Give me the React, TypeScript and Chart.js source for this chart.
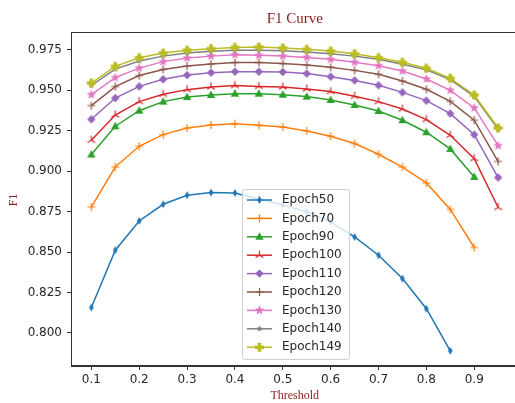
import React, { useEffect, useRef } from "react";
import { Chart, registerables } from "chart.js";

Chart.register(...registerables);

// Score-threshold sweep
const thresholds = [0.1, 0.15, 0.2, 0.25, 0.3, 0.35, 0.4, 0.45, 0.5, 0.55, 0.6, 0.65, 0.7, 0.75, 0.8, 0.85, 0.9, 0.95];

// F1 per checkpoint (shorter series stop where the model no longer predicts)
const epoch50 = [0.8157, 0.8511, 0.8692, 0.8795, 0.8851, 0.8867, 0.8865, 0.8826, 0.8792, 0.8748, 0.8686, 0.8593, 0.848, 0.8336, 0.815, 0.789];
const epoch70 = [0.8778, 0.9025, 0.9153, 0.9225, 0.9266, 0.9285, 0.9293, 0.9283, 0.9272, 0.9248, 0.9215, 0.917, 0.9104, 0.9025, 0.8927, 0.8763, 0.8528];
const epoch90 = [0.9102, 0.9277, 0.9373, 0.9429, 0.9457, 0.947, 0.9478, 0.9478, 0.9472, 0.946, 0.9439, 0.9408, 0.9371, 0.9314, 0.924, 0.9137, 0.8964];
const epoch100 = [0.919, 0.9346, 0.9429, 0.9474, 0.9503, 0.9519, 0.9528, 0.9523, 0.9519, 0.9507, 0.9491, 0.9462, 0.9429, 0.9383, 0.9318, 0.9221, 0.9077, 0.8775];
const epoch110 = [0.932, 0.9451, 0.9523, 0.9567, 0.9593, 0.9608, 0.9614, 0.9614, 0.9612, 0.9602, 0.9583, 0.956, 0.953, 0.9486, 0.9435, 0.9355, 0.9225, 0.896];
const epoch120 = [0.9404, 0.9522, 0.959, 0.9628, 0.9649, 0.9661, 0.967, 0.967, 0.9664, 0.9655, 0.9641, 0.9622, 0.9598, 0.9556, 0.9505, 0.9431, 0.9314, 0.9059];
const epoch130 = [0.9472, 0.9577, 0.9636, 0.9676, 0.9698, 0.971, 0.9719, 0.9715, 0.971, 0.9702, 0.969, 0.9672, 0.9651, 0.9618, 0.9569, 0.9499, 0.939, 0.9157];
const epoch140 = [0.953, 0.963, 0.968, 0.971, 0.973, 0.974, 0.9747, 0.9747, 0.9743, 0.9735, 0.9725, 0.971, 0.969, 0.966, 0.9625, 0.9565, 0.9462, 0.9258];
const epoch149 = [0.9544, 0.9647, 0.97, 0.9729, 0.9746, 0.9756, 0.9764, 0.9766, 0.976, 0.9752, 0.9741, 0.9725, 0.97, 0.9672, 0.9635, 0.9573, 0.947, 0.9266];

const seriesNames = ["Epoch50", "Epoch70", "Epoch90", "Epoch100", "Epoch110", "Epoch120", "Epoch130", "Epoch140", "Epoch149"];
const seriesValues = [epoch50, epoch70, epoch90, epoch100, epoch110, epoch120, epoch130, epoch140, epoch149];

const xTicks = [0.1, 0.2, 0.3, 0.4, 0.5, 0.6, 0.7, 0.8, 0.9];
const yTicks = [0.8, 0.825, 0.85, 0.875, 0.9, 0.925, 0.95, 0.975];

const colors = ["#1f77b4", "#ff7f0e", "#2ca02c", "#d62728", "#9467bd", "#8c564b", "#e377c2", "#7f7f7f", "#bcbd22"];
const markerKinds = ["thinDiamond", "plus", "triangle", "tri", "diamond", "plus", "star", "smallStar", "fatPlus"];

const LABEL_RED = "#8b1a1a";
const TICK_FONT = "DejaVu Sans";

function starPath(ctx: CanvasRenderingContext2D, cx: number, cy: number, ro: number, ri: number) {
  ctx.beginPath();
  for (let i = 0; i < 10; i++) {
    const r = i % 2 === 0 ? ro : ri;
    const a = -Math.PI / 2 + (i * Math.PI) / 5;
    const px = cx + r * Math.cos(a);
    const py = cy + r * Math.sin(a);
    if (i === 0) ctx.moveTo(px, py);
    else ctx.lineTo(px, py);
  }
  ctx.closePath();
}

function drawMarker(ctx: CanvasRenderingContext2D, kind: string, cx: number, cy: number, color: string) {
  ctx.save();
  ctx.fillStyle = color;
  ctx.strokeStyle = color;
  ctx.lineWidth = 1.2;
  switch (kind) {
    case "thinDiamond":
      ctx.beginPath();
      ctx.moveTo(cx, cy - 4);
      ctx.lineTo(cx + 2.3, cy);
      ctx.lineTo(cx, cy + 4);
      ctx.lineTo(cx - 2.3, cy);
      ctx.closePath();
      ctx.fill();
      break;
    case "plus":
      ctx.beginPath();
      ctx.moveTo(cx - 4, cy);
      ctx.lineTo(cx + 4, cy);
      ctx.moveTo(cx, cy - 4);
      ctx.lineTo(cx, cy + 4);
      ctx.stroke();
      break;
    case "triangle":
      ctx.beginPath();
      ctx.moveTo(cx, cy - 4.5);
      ctx.lineTo(cx + 4.2, cy + 3);
      ctx.lineTo(cx - 4.2, cy + 3);
      ctx.closePath();
      ctx.fill();
      break;
    case "tri":
      ctx.beginPath();
      for (let k = 0; k < 3; k++) {
        const a = -Math.PI / 2 + (k * 2 * Math.PI) / 3;
        ctx.moveTo(cx, cy);
        ctx.lineTo(cx + 4.5 * Math.cos(a), cy + 4.5 * Math.sin(a));
      }
      ctx.stroke();
      break;
    case "diamond":
      ctx.beginPath();
      ctx.moveTo(cx, cy - 4.2);
      ctx.lineTo(cx + 4.2, cy);
      ctx.lineTo(cx, cy + 4.2);
      ctx.lineTo(cx - 4.2, cy);
      ctx.closePath();
      ctx.fill();
      break;
    case "star":
      starPath(ctx, cx, cy, 5, 2.2);
      ctx.fill();
      break;
    case "smallStar":
      starPath(ctx, cx, cy, 3.4, 1.5);
      ctx.fill();
      break;
    case "fatPlus":
      ctx.beginPath();
      ctx.rect(cx - 4.5, cy - 1.8, 9, 3.6);
      ctx.rect(cx - 1.8, cy - 4.5, 3.6, 9);
      ctx.fill();
      break;
  }
  ctx.restore();
}

function markerImage(kind: string, color: string): HTMLCanvasElement {
  const c = document.createElement("canvas");
  c.width = 12;
  c.height = 12;
  const ctx = c.getContext("2d")!;
  drawMarker(ctx, kind, 6, 6, color);
  return c;
}

const decorations = {
  id: "decorations",
  afterDatasetsDraw(chart: any) {
    const { ctx, chartArea } = chart;
    const { left, right, top, bottom } = chartArea;
    ctx.save();

    // frame on all four sides
    ctx.strokeStyle = "#333";
    ctx.lineWidth = 1;
    ctx.strokeRect(left + 0.5, top + 0.5, right - left - 1, bottom - top - 1);

    // legend box
    const bx = 242, by = 189, bw = 107, bh = 170;
    ctx.fillStyle = "rgba(255,255,255,0.8)";
    ctx.strokeStyle = "#d0d0d0";
    ctx.beginPath();
    ctx.roundRect(bx + 0.5, by + 0.5, bw, bh, 2);
    ctx.fill();
    ctx.stroke();

    ctx.font = `12px "${TICK_FONT}"`;
    ctx.textBaseline = "middle";
    ctx.textAlign = "left";
    seriesNames.forEach((name, i) => {
      const y = 200 + i * 18.4;
      ctx.strokeStyle = colors[i];
      ctx.lineWidth = 1.5;
      ctx.beginPath();
      ctx.moveTo(247, y);
      ctx.lineTo(272, y);
      ctx.stroke();
      drawMarker(ctx, markerKinds[i], 259.5, y, colors[i]);
      ctx.fillStyle = "#262626";
      ctx.fillText(name, 282, y);
    });

    // title and axis titles
    const cx = (left + right) / 2;
    ctx.fillStyle = LABEL_RED;
    ctx.textAlign = "center";
    ctx.font = '15px "Liberation Serif"';
    ctx.fillText("F1 Curve", cx, 19);
    ctx.font = '12px "Liberation Serif"';
    ctx.fillText("Threshold", cx, 396);
    ctx.translate(14, 200);
    ctx.rotate(-Math.PI / 2);
    ctx.fillText("F1", 0, 0);
    ctx.restore();
  },
};

export default function App() {
  const canvasRef = useRef<HTMLCanvasElement | null>(null);

  useEffect(() => {
    const canvas = canvasRef.current;
    if (!canvas) return;

    const datasets = seriesNames.map((name, i) => ({
      label: name,
      data: seriesValues[i].map((v, j) => ({ x: thresholds[j], y: v })),
      borderColor: colors[i],
      backgroundColor: colors[i],
      borderWidth: 1.5,
      pointStyle: markerImage(markerKinds[i], colors[i]),
      pointRadius: 5,
      order: seriesNames.length - i,
      tension: 0,
    }));

    const chart = new Chart(canvas, {
      type: "line",
      data: { datasets },
      options: {
        animation: false,
        responsive: false,
        layout: { padding: { top: 32, right: 6, left: 0, bottom: 0 } },
        plugins: {
          legend: { display: false },
          title: { display: false },
          tooltip: { enabled: false },
        },
        scales: {
          x: {
            type: "linear",
            min: 0.0575,
            max: 0.9925,
            afterBuildTicks: (scale: any) => {
              scale.ticks = xTicks.map((v) => ({ value: v }));
            },
            afterFit: (scale: any) => {
              scale.height = 37;
            },
            ticks: {
              color: "#262626",
              font: { family: TICK_FONT, size: 12 },
              padding: 3,
              maxRotation: 0,
              autoSkip: false,
              callback: (v: any) => Number(v).toFixed(1),
            },
            grid: { drawOnChartArea: false, drawTicks: true, tickLength: 4, color: "#333" },
            border: { display: true, color: "#333" },
          },
          y: {
            type: "linear",
            min: 0.7796,
            max: 0.9859,
            afterBuildTicks: (scale: any) => {
              scale.ticks = yTicks.map((v) => ({ value: v }));
            },
            afterFit: (scale: any) => {
              scale.width = 71;
            },
            ticks: {
              color: "#262626",
              font: { family: TICK_FONT, size: 12 },
              padding: 5,
              autoSkip: false,
              callback: (v: any) => Number(v).toFixed(3),
            },
            grid: { drawOnChartArea: false, drawTicks: true, tickLength: 4, color: "#333" },
            border: { display: true, color: "#333" },
          },
        },
      },
      plugins: [decorations],
    });

    return () => chart.destroy();
  }, []);

  return (
    <div style={{ position: "fixed", left: 0, top: 0, width: 515, height: 403, overflow: "hidden", background: "#fff" }}>
      <canvas ref={canvasRef} width={525} height={403} style={{ display: "block" }} />
    </div>
  );
}
